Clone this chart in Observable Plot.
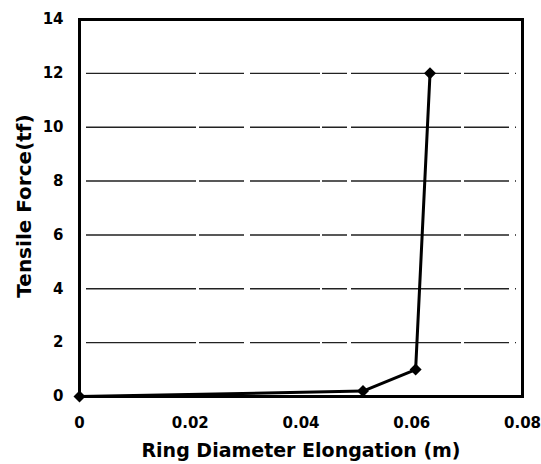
<!DOCTYPE html>
<html>
<head>
<meta charset="utf-8">
<script src="https://cdn.jsdelivr.net/npm/d3@7"></script>
<script src="https://cdn.jsdelivr.net/npm/@observablehq/plot@0.6"></script>
<style>
  html, body { margin: 0; padding: 0; background: #fff; }
  #chart svg { display: block; }
</style>
</head>
<body>
<div id="chart"></div>
<script>
const elongation = [0, 0.0512, 0.0607, 0.0633];
const tensileForce = [0, 0.2, 1.0, 12.0];
const xTicks = [0, 0.02, 0.04, 0.06, 0.08];
const yTicks = [0, 2, 4, 6, 8, 10, 12, 14];
const gridValues = [2, 4, 6, 8, 10, 12];
const xTitle = "Ring Diameter Elongation (m)";
const yTitle = "Tensile Force(tf)";

const data = elongation.map((x, i) => ({x, y: tensileForce[i]}));

const chart = Plot.plot({
  width: 541,
  height: 464,
  marginLeft: 79,
  marginRight: 19,
  marginTop: 19,
  marginBottom: 68,
  style: {fontFamily: "'DejaVu Sans', Verdana, sans-serif", background: "#fff", color: "#000"},
  x: {domain: [0, 0.08]},
  y: {domain: [0, 14]},
  marks: [
    Plot.ruleY(gridValues, {stroke: "#222", strokeWidth: 1.4, insetLeft: 7, insetRight: 6, strokeDasharray: "110,3,45,6,70,2,25,4"}),
    Plot.axisX({ticks: xTicks, tickSize: 0, tickPadding: 21, fontSize: 15, fontWeight: "bold", label: null,
      tickFormat: d => d === 0 ? "0" : d.toFixed(2)}),
    Plot.axisY({ticks: yTicks, tickSize: 0, tickPadding: 16, fontSize: 15, fontWeight: "bold", label: null}),
    Plot.frame({stroke: "#000", strokeWidth: 3}),
    Plot.line(data, {x: "x", y: "y", stroke: "#000", strokeWidth: 3}),
    Plot.dot(data, {x: "x", y: "y", symbol: "diamond2", r: 5.4, fill: "#000", stroke: "none"}),
    Plot.text([xTitle], {frameAnchor: "bottom", textAnchor: "middle", lineAnchor: "middle", dy: 54, fontSize: 19, fontWeight: "bold", fill: "#000"}),
    Plot.text([yTitle], {frameAnchor: "left", textAnchor: "middle", lineAnchor: "middle", dx: -55, dy: -2, rotate: -90, fontSize: 20, fontWeight: "bold", fill: "#000"})
  ]
});
document.getElementById("chart").appendChild(chart);
</script>
</body>
</html>
